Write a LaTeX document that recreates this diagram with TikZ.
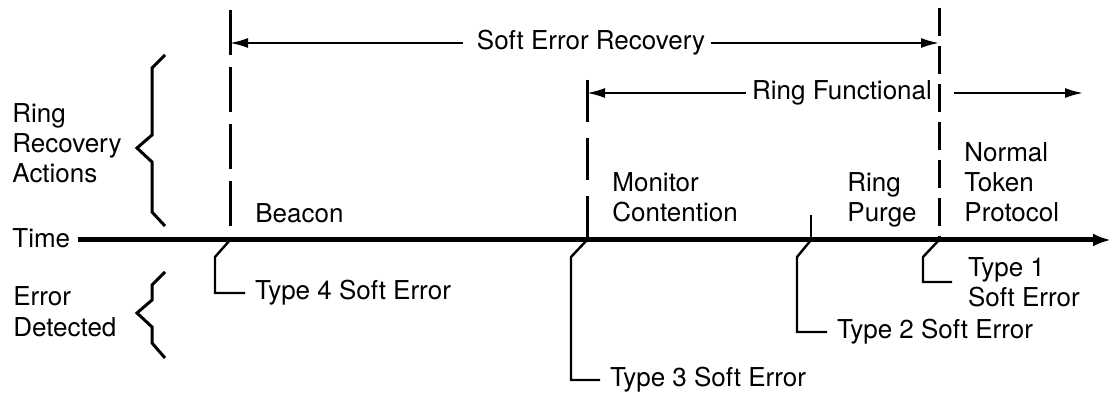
\documentclass[tikz,border=0pt]{standalone}
\usepackage{fontspec}
\setmainfont{TeX Gyre Heros}
\usetikzlibrary{arrows.meta,positioning}

\begin{document}
\begin{tikzpicture}[
  x=0.5pt, y=-0.5pt,
  >={Latex[length=9pt,width=5pt]},
  font=\fontsize{13}{15}\selectfont,
  caption/.style={anchor=base west, inner sep=0pt, align=left},
  errtext/.style={anchor=west, inner sep=0pt, outer sep=5pt, align=left},
  phasetext/.style={inner sep=3pt},
  timeaxis/.style={line width=2.5pt, -{Latex[length=9pt,width=6.5pt]}},
  marker/.style={line width=1.5pt, dash pattern=on 22.5pt off 6pt},
  spanarrow/.style={->, line width=1pt},
  leader/.style={line width=1.2pt},
  bracket/.style={line width=1.5pt, line join=miter}
]
\useasboundingbox (0,0) rectangle (1111,394);

% time axis and the points where the phases change
\node[caption] (time) at (12,248) {Time};
\coordinate (beacon) at (230,240);
\coordinate (monitor) at (587,240);
\coordinate (purge) at (811,240);
\coordinate (normal) at (939,240);
\coordinate (axis end) at (1111,240);
\coordinate (beacon top) at (230,10);
\coordinate (monitor top) at (587,80);
\coordinate (purge top) at (811,215);
\coordinate (normal top) at (939,8);
\coordinate (functional end) at (1083,93);

\draw[timeaxis, shorten <=3.5pt] (time.east |- beacon) -- (axis end);
\draw[marker] (beacon top) -- (beacon);
\draw[marker, dash pattern=on 21pt off 8pt] (monitor top) -- (monitor);
\draw[marker, dash pattern=on 14pt off 5pt] (normal top) -- (normal);
\draw[leader] (purge top) -- (purge);

% spans
\node[phasetext] (recovery) at (591,43) {Soft Error Recovery};
\draw[spanarrow, shorten <=4pt] (recovery.west) -- (recovery.west -| beacon);
\draw[spanarrow] (recovery.east) -- (recovery.east -| normal);

\node[phasetext] (functional) at (842,93) {Ring Functional};
\draw[spanarrow] (functional.west) -- (functional.west -| monitor);
\draw[spanarrow, shorten <=8pt] (functional.east) -- (functional end);

% phase names (base = last line)
\node[caption] (beacon label) at (255,223) {Beacon};
\node[caption] (monitor label) at (612,222) {Monitor\\Contention};
\node[caption] (purge label) at (847,222) {Ring\\Purge};
\node[caption] (normal label) at (964,222) {Normal\\Token\\Protocol};

% row titles and brackets
\node[caption] (actions) at (12,183) {Ring\\Recovery\\Actions};
\node[caption] (detected) at (13,336) {Error\\Detected};
\draw[bracket] (165,55) -- (152,68) -- (152,135) -- (137,148) -- (152,162) -- (152,212) -- (165,226);
\draw[bracket] (165,272) -- (152,285) -- (152,300) -- (137,313) -- (152,327) -- (152,343) -- (165,358);

% soft errors
\node[errtext] (type4) at (245,293) {Type 4 Soft Error};
\node[errtext] (type3) at (600,380) {Type 3 Soft Error};
\node[errtext] (type2) at (827,332) {Type 2 Soft Error};
\node[errtext, outer sep=8pt] (type1) at (952,282) {Type 1\\Soft Error};
\draw[leader] (beacon) -- ++(-15,17) |- (type4.west);
\draw[leader] (monitor) -- ++(-16,17) |- (type3.west);
\draw[leader] (purge) -- ++(-14,17) |- (type2.west);
\draw[leader] (normal) -- ++(-16,17) |- (type1.west);

\end{tikzpicture}
\end{document}
